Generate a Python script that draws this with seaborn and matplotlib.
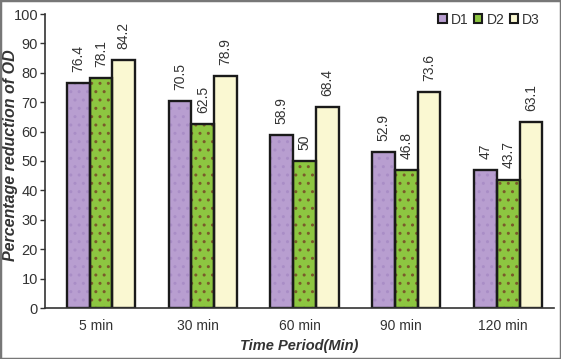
import matplotlib
matplotlib.use("Agg")
import matplotlib.pyplot as plt
import seaborn as sns
import pandas as pd
from matplotlib.patches import Patch, Rectangle

categories = ["5 min", "30 min", "60 min", "90 min", "120 min"]
series = ["D1", "D2", "D3"]
d1 = [76.4, 70.5, 58.9, 52.9, 47]
d2 = [78.1, 62.5, 50, 46.8, 43.7]
d3 = [84.2, 78.9, 68.4, 73.6, 63.1]
y_ticks = list(range(0, 101, 10))

rows = []
for s, vals in zip(series, [d1, d2, d3]):
    for c, v in zip(categories, vals):
        rows.append({"Time": c, "Series": s, "Value": v})
df = pd.DataFrame(rows)

sns.set_style("white")
plt.rcParams['font.family'] = ['Liberation Sans', 'DejaVu Sans']
plt.rcParams['hatch.linewidth'] = 1.0

fill_colors = {"D1": "#B89ED0", "D2": "#8DC641", "D3": "#FAF8D2"}
dot_colors = {"D1": "#A98DC6", "D2": "#7A5A2A", "D3": "#FAF8D2"}
txt = "#333333"

fig = plt.figure(figsize=(5.61, 3.59), dpi=100)
ax = fig.add_axes([45 / 561, 51 / 359, 509 / 561, 294 / 359])

sns.barplot(data=df, x="Time", y="Value", hue="Series", order=categories,
            hue_order=series, palette=fill_colors, width=0.67, saturation=1,
            linewidth=0, errorbar=None, legend=False, ax=ax)
fill_containers = list(ax.containers)
for cont, s in zip(fill_containers, series):
    for p in cont:
        if s != "D3":
            p.set_hatch('..')
        p.set_edgecolor(dot_colors[s])
        p.set_linewidth(0)

n = len(ax.patches)
sns.barplot(data=df, x="Time", y="Value", hue="Series", order=categories,
            hue_order=series, palette=fill_colors, width=0.67, saturation=1,
            errorbar=None, legend=False, ax=ax)
for p in ax.patches[n:]:
    p.set_facecolor("none")
    p.set_edgecolor("#1a1a1a")
    p.set_linewidth(1.7)

for cont in fill_containers:
    ax.bar_label(cont, fmt="%g", rotation=90, padding=8, fontsize=10, color=txt)

ax.set_xlim(-0.55, 4.45)
ax.set_ylim(0, 100)
ax.set_yticks(y_ticks)
ax.set_xticks([i - 0.05 for i in range(len(categories))], categories)
ax.set_xticks([i - 0.55 for i in range(len(categories) + 1)], minor=True)
ax.tick_params(axis='x', which='major', length=0, pad=8, labelsize=10, labelcolor=txt)
ax.tick_params(axis='x', which='minor', length=4, width=1, color=txt, direction='out')
ax.tick_params(axis='y', length=3.5, width=1, color=txt, direction='out', labelsize=10.5,
               labelcolor=txt, pad=1.5, left=True)
for side in ["top", "right"]:
    ax.spines[side].set_visible(False)
for side in ["left", "bottom"]:
    ax.spines[side].set_color(txt)
    ax.spines[side].set_linewidth(1.2)

ax.set_xlabel("Time Period(Min)", fontsize=10.5, fontweight="bold", fontstyle="italic",
              color=txt, labelpad=4)
ax.set_ylabel("Percentage reduction of OD", fontsize=11.5, fontweight="bold",
              fontstyle="italic", color=txt)
ax.yaxis.set_label_coords(-0.053, 0.519)

handles = [Patch(facecolor=fill_colors[s], edgecolor="#1a1a1a", linewidth=1.5) for s in series]
fig.legend(handles, series, loc="upper right", bbox_to_anchor=(0.985, 1.0), ncol=3,
           frameon=False, fontsize=10, handlelength=0.6, handleheight=0.6,
           handletextpad=0.3, columnspacing=0.4, labelcolor=txt)

fig.patches.append(Rectangle((0, 0), 1, 1, transform=fig.transFigure, fill=False,
                             edgecolor="#777777", linewidth=2.5))

fig.savefig("out.png", dpi=100)
